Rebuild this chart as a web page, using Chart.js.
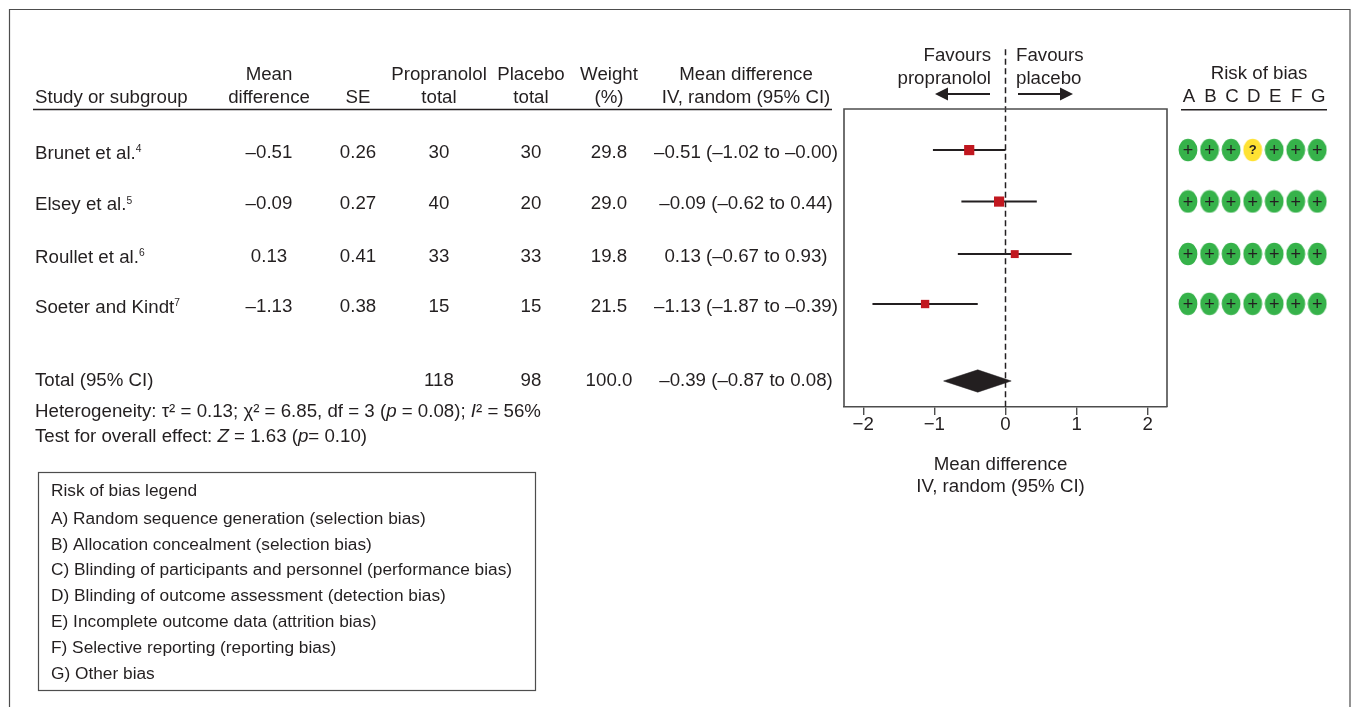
<!DOCTYPE html>
<html>
<head>
<meta charset="utf-8">
<title>Forest plot</title>
<script src="https://cdn.jsdelivr.net/npm/chart.js@4/dist/chart.umd.js"></script>
<style>
  html, body { margin: 0; padding: 0; background: #fff; overflow: hidden; }
  #wrap { position: relative; width: 1355px; height: 707px; }
  #forest { position: absolute; left: 0; top: 0; }
  #bias { position: absolute; left: 1170px; top: 60px; }
</style>
</head>
<body>
<div id="wrap">
  <canvas id="forest" width="1355" height="707"></canvas>
  <canvas id="bias" width="170" height="360"></canvas>
</div>
<script>
// Data
const studies = ["Brunet et al.", "Elsey et al.", "Roullet et al.", "Soeter and Kindt"];
const refs = ["4", "5", "6", "7"];
const meanDiff = [-0.51, -0.09, 0.13, -1.13];
const se = [0.26, 0.27, 0.41, 0.38];
const propTotal = [30, 40, 33, 15];
const placeboTotal = [30, 20, 33, 15];
const weight = [29.8, 29.0, 19.8, 21.5];
const ciLow = [-1.02, -0.62, -0.67, -1.87];
const ciHigh = [-0.00, 0.44, 0.93, -0.39];
const squareRadius = [7.2, 7.2, 5.6, 5.9];
const rows = [0, 0.99, 2, 2.96];
const totalRow = 4.44;
const total = { mean: -0.39, low: -0.87, high: 0.08, prop: 118, placebo: 98, weight: "100.0" };
const xTicks = [-2, -1, 0, 1, 2];
const biasLetters = ["A", "B", "C", "D", "E", "F", "G"];
const biasMarks = [
  ["+", "+", "+", "?", "+", "+", "+"],
  ["+", "+", "+", "+", "+", "+", "+"],
  ["+", "+", "+", "+", "+", "+", "+"],
  ["+", "+", "+", "+", "+", "+", "+"]
];
const legendLines = [
  "Risk of bias legend",
  "A) Random sequence generation (selection bias)",
  "B) Allocation concealment (selection bias)",
  "C) Blinding of participants and personnel (performance bias)",
  "D) Blinding of outcome assessment (detection bias)",
  "E) Incomplete outcome data (attrition bias)",
  "F) Selective reporting (reporting bias)",
  "G) Other bias"
];
const legendY = [491, 519, 545, 570, 596, 622, 648, 674];

const FONT = '"Liberation Sans", Arial, sans-serif';
const SIZE = 18.7;
const INK = "#231f20";
const EDGE = "#4d4d4d";

function dash(v, digits) {
  const s = Math.abs(v).toFixed(digits);
  return (v < 0 || Object.is(v, -0) ? "\u2013" : "") + s;
}

function ciLabel(m, lo, hi) {
  return dash(m, 2) + " (" + dash(lo, 2) + " to " + dash(hi, 2) + ")";
}

// Left-aligned text made of runs: [text, "i" for italic or "s" for superscript]
function drawRuns(ctx, runs, x, y, size) {
  runs.forEach(r => {
    const style = r[1];
    const s = style === "s" ? size * 0.55 : size;
    ctx.font = (style === "i" ? "italic " : "") + s + "px " + FONT;
    ctx.textBaseline = "alphabetic";
    ctx.textAlign = "left";
    ctx.fillText(r[0], x, style === "s" ? y - size * 0.34 : y);
    x += ctx.measureText(r[0]).width;
  });
}

function center(ctx, text, x, y) {
  ctx.textAlign = "center";
  ctx.fillText(text, x, y);
}

function arrow(ctx, from, base, tip, y) {
  ctx.beginPath();
  ctx.moveTo(from, y);
  ctx.lineTo(base, y);
  ctx.lineWidth = 2;
  ctx.stroke();
  ctx.beginPath();
  ctx.moveTo(tip, y);
  ctx.lineTo(base, y - 6.5);
  ctx.lineTo(base, y + 6.5);
  ctx.closePath();
  ctx.fill();
}

// Everything around the plot: table, header, frames, legend box
const tablePlugin = {
  id: "forestTable",
  afterDraw(chart) {
    const { ctx, chartArea } = chart;
    const yScale = chart.scales.y;
    ctx.save();
    ctx.fillStyle = INK;
    ctx.strokeStyle = INK;

    // outer frame, open at the bottom
    ctx.strokeStyle = EDGE;
    ctx.lineWidth = 1.2;
    ctx.beginPath();
    ctx.moveTo(9.5, 707);
    ctx.lineTo(9.5, 9.5);
    ctx.lineTo(1350, 9.5);
    ctx.lineTo(1350, 707);
    ctx.stroke();

    // plot frame (x axis draws the bottom edge)
    ctx.lineWidth = 1.6;
    ctx.beginPath();
    ctx.moveTo(chartArea.left, chartArea.bottom);
    ctx.lineTo(chartArea.left, chartArea.top);
    ctx.lineTo(chartArea.right, chartArea.top);
    ctx.lineTo(chartArea.right, chartArea.bottom);
    ctx.stroke();

    // header
    ctx.strokeStyle = INK;
    ctx.font = SIZE + "px " + FONT;
    ctx.textBaseline = "middle";
    ctx.textAlign = "left";
    ctx.fillText("Study or subgroup", 35, 97.5);
    center(ctx, "Mean", 269, 74.5);
    center(ctx, "difference", 269, 97.5);
    center(ctx, "SE", 358, 97.5);
    center(ctx, "Propranolol", 439, 74.5);
    center(ctx, "total", 439, 97.5);
    center(ctx, "Placebo", 531, 74.5);
    center(ctx, "total", 531, 97.5);
    center(ctx, "Weight", 609, 74.5);
    center(ctx, "(%)", 609, 97.5);
    center(ctx, "Mean difference", 746, 74.5);
    center(ctx, "IV, random (95% CI)", 746, 97.5);
    center(ctx, "Risk of bias", 1259, 73.5);
    ctx.lineWidth = 1.3;
    ctx.beginPath();
    ctx.moveTo(33, 109.5);
    ctx.lineTo(832, 109.5);
    ctx.stroke();

    // favours labels and arrows
    ctx.textAlign = "right";
    ctx.fillText("Favours", 991, 55.5);
    ctx.fillText("propranolol", 991, 78.5);
    ctx.textAlign = "left";
    ctx.fillText("Favours", 1016, 55.5);
    ctx.fillText("placebo", 1016, 78.5);
    arrow(ctx, 990, 948, 935, 94);
    arrow(ctx, 1018, 1060, 1073, 94);

    // x axis caption sits a little left of the zero line
    const capX = chart.scales.x.getPixelForValue(0) - 5;
    center(ctx, "Mean difference", capX, 464.5);
    center(ctx, "IV, random (95% CI)", capX, 486.5);

    // study rows
    studies.forEach((name, i) => {
      const y = yScale.getPixelForValue(rows[i]) + 2.5;
      drawRuns(ctx, [[name, ""], [refs[i], "s"]], 35, y + 6, SIZE);
      ctx.font = SIZE + "px " + FONT;
      ctx.textBaseline = "middle";
      center(ctx, dash(meanDiff[i], 2), 269, y);
      center(ctx, se[i].toFixed(2), 358, y);
      center(ctx, String(propTotal[i]), 439, y);
      center(ctx, String(placeboTotal[i]), 531, y);
      center(ctx, weight[i].toFixed(1), 609, y);
      center(ctx, ciLabel(meanDiff[i], ciLow[i], ciHigh[i]), 746, y);
    });

    // total row
    const ty = yScale.getPixelForValue(totalRow);
    ctx.font = SIZE + "px " + FONT;
    ctx.textBaseline = "middle";
    ctx.textAlign = "left";
    ctx.fillText("Total (95% CI)", 35, ty);
    center(ctx, String(total.prop), 439, ty);
    center(ctx, String(total.placebo), 531, ty);
    center(ctx, total.weight, 609, ty);
    center(ctx, ciLabel(total.mean, total.low, total.high), 746, ty);

    drawRuns(ctx, [
      ["Heterogeneity: \u03c4\u00b2 = 0.13; \u03c7\u00b2 = 6.85, df = 3 (", ""],
      ["p", "i"], [" = 0.08); ", ""], ["I", "i"], ["\u00b2 = 56%", ""]
    ], 35, 416.5, SIZE);
    drawRuns(ctx, [
      ["Test for overall effect: ", ""], ["Z", "i"], [" = 1.63 (", ""],
      ["p", "i"], ["= 0.10)", ""]
    ], 35, 441.5, SIZE);

    // legend box
    ctx.strokeStyle = EDGE;
    ctx.lineWidth = 1.2;
    ctx.strokeRect(38.5, 472.5, 497, 218);
    ctx.font = "17.3px " + FONT;
    ctx.textBaseline = "middle";
    ctx.textAlign = "left";
    legendLines.forEach((line, i) => ctx.fillText(line, 51, legendY[i]));
    ctx.restore();
  }
};

// One thin line per study, the red square on top
const ciSets = studies.map((s, i) => ({
  showLine: true,
  data: [{ x: ciLow[i], y: rows[i] }, { x: ciHigh[i], y: rows[i] }],
  borderColor: INK,
  borderWidth: 2,
  pointRadius: 0,
  order: 3
}));

const diamondHalf = 0.215;
const diamondSet = {
  showLine: true,
  data: [
    { x: total.low, y: totalRow },
    { x: total.mean, y: totalRow - diamondHalf },
    { x: total.high, y: totalRow },
    { x: total.mean, y: totalRow + diamondHalf },
    { x: total.low, y: totalRow }
  ],
  borderColor: INK,
  backgroundColor: INK,
  borderWidth: 0.5,
  fill: "shape",
  pointRadius: 0,
  tension: 0,
  order: 2
};

const squareSet = {
  data: meanDiff.map((m, i) => ({ x: m, y: rows[i] })),
  pointStyle: "rect",
  pointRadius: squareRadius,
  pointBackgroundColor: "#c1171f",
  pointBorderWidth: 0,
  order: 1
};

const zeroSet = {
  showLine: true,
  data: [{ x: 0, y: -1.94 }, { x: 0, y: 4.94 }],
  borderColor: INK,
  borderWidth: 1.5,
  borderDash: [6, 3.5],
  pointRadius: 0,
  clip: false,
  order: 4
};

new Chart(document.getElementById("forest"), {
  type: "scatter",
  data: { datasets: [zeroSet, ...ciSets, diamondSet, squareSet] },
  options: {
    responsive: false,
    animation: false,
    events: [],
    layout: { padding: { left: 844, right: 188, top: 109, bottom: 209 } },
    plugins: { legend: { display: false }, tooltip: { enabled: false } },
    scales: {
      x: {
        type: "linear",
        min: -2.27,
        max: 2.27,
        afterBuildTicks(scale) {
          scale.ticks = xTicks.map(v => ({ value: v }));
        },
        afterFit(scale) {
          scale.height = 91;
        },
        border: { color: EDGE, width: 1.6 },
        grid: { drawOnChartArea: false, drawTicks: true, tickLength: 8, color: EDGE, lineWidth: 1.4 },
        ticks: {
          color: INK,
          padding: -1,
          maxRotation: 0,
          font: { family: FONT, size: SIZE },
          callback: v => (v < 0 ? "\u2212" + Math.abs(v) : String(v))
        }
      },
      y: { type: "linear", display: false, reverse: true, min: -0.79, max: 4.94 }
    }
  },
  plugins: [tablePlugin]
});

// Risk of bias panel, second small chart to the right of the plot
function ellipseStyle(color) {
  const c = document.createElement("canvas");
  c.width = 20;
  c.height = 24;
  const g = c.getContext("2d");
  g.fillStyle = color;
  g.beginPath();
  g.ellipse(10, 12, 9.4, 11.2, 0, 0, Math.PI * 2);
  g.fill();
  return c;
}

const biasPoints = biasMarks.flatMap((marks, r) =>
  marks.map((m, c) => ({ x: c, y: rows[r], mark: m }))
);

const biasLabelPlugin = {
  id: "biasMarks",
  afterDatasetsDraw(chart) {
    const { ctx, scales } = chart;
    ctx.save();
    ctx.fillStyle = INK;
    ctx.textAlign = "center";
    ctx.textBaseline = "middle";
    biasPoints.forEach(p => {
      ctx.font = (p.mark === "?" ? "bold 13px " : "18px ") + FONT;
      const nudge = p.mark === "?" ? 0.5 : 1.5;
      ctx.fillText(p.mark, scales.x.getPixelForValue(p.x), scales.y.getPixelForValue(p.y) + nudge);
    });
    ctx.restore();
  }
};

new Chart(document.getElementById("bias"), {
  type: "scatter",
  data: {
    datasets: [
      {
        data: biasPoints.filter(p => p.mark === "+"),
        pointStyle: ellipseStyle("#36b24a"),
        clip: false
      },
      {
        data: biasPoints.filter(p => p.mark === "?"),
        pointStyle: ellipseStyle("#ffe233"),
        clip: false
      }
    ]
  },
  options: {
    responsive: false,
    animation: false,
    events: [],
    layout: { padding: { left: 12, right: 14, top: 0, bottom: 20 } },
    plugins: { legend: { display: false }, tooltip: { enabled: false } },
    scales: {
      x: {
        type: "linear",
        position: "top",
        min: -0.278,
        max: 6.404,
        afterBuildTicks(scale) {
          scale.ticks = biasLetters.map((l, i) => ({ value: i }));
        },
        afterFit(scale) {
          scale.height = 50;
        },
        border: { color: INK, width: 1.4 },
        grid: { display: false, drawTicks: false },
        ticks: {
          color: INK,
          padding: 2,
          labelOffset: 1,
          maxRotation: 0,
          font: { family: FONT, size: SIZE },
          callback: v => biasLetters[v]
        }
      },
      y: { type: "linear", display: false, reverse: true, min: -0.77, max: 4.81 }
    }
  },
  plugins: [biasLabelPlugin]
});
</script>
</body>
</html>
